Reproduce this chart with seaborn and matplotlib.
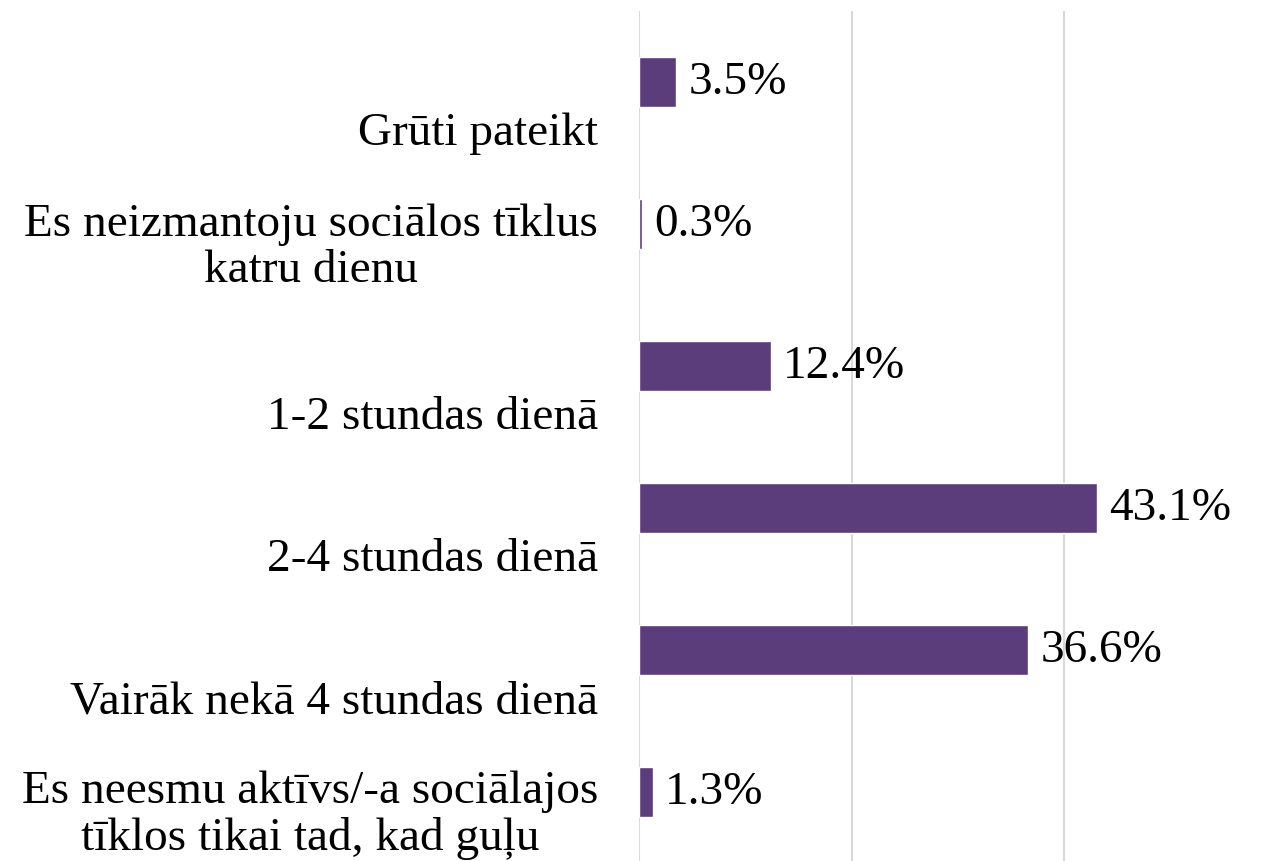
import matplotlib
matplotlib.use("Agg")
import matplotlib.pyplot as plt
import matplotlib.transforms as mtransforms
import seaborn as sns
import pandas as pd

categories = [
    "Grūti pateikt",
    "Es neizmantoju sociālos tīklus\nkatru dienu",
    "1-2 stundas dienā",
    "2-4 stundas dienā",
    "Vairāk nekā 4 stundas dienā",
    "Es neesmu aktīvs/-a sociālajos\ntīklos tikai tad, kad guļu",
]
values = [3.5, 0.3, 12.4, 43.1, 36.6, 1.3]

df = pd.DataFrame({"category": categories, "value": values})

sns.set_style("white")
plt.rcParams["font.family"] = ["Liberation Serif", "DejaVu Serif"]

fig = plt.figure(figsize=(12.66, 8.62), dpi=100)
ax = fig.add_axes([639 / 1266, 0.0, 1 - 639 / 1266, 1 - 12 / 862])

sns.barplot(data=df, x="value", y="category", orient="h", color="#5A3D7A",
            width=0.35, saturation=1, ax=ax)

for c in ax.containers:
    ax.bar_label(c, labels=[f"{v:.1f}%" for v in values], padding=9,
                 fontsize=34, color="black")

ax.set_xlim(0, 59)
ax.set_ylim(5.486, -0.5)
ax.set_xticks([0, 20, 40])
ax.xaxis.grid(True, color="#D9D9D9", linewidth=1.5)
ax.set_axisbelow(True)
ax.tick_params(axis="both", length=0, labelbottom=False, labelleft=False)
for s in ax.spines.values():
    s.set_visible(False)
ax.set_xlabel("")
ax.set_ylabel("")

# category labels sit below their bars, like in the original chart
trans = mtransforms.blended_transform_factory(ax.transAxes, ax.transData)
for i, lab in enumerate(categories):
    off = 0.16 if "\n" in lab else 0.36
    ax.text(-41 / 627, i + off, lab, transform=trans, ha="right", va="center",
            multialignment="center", fontsize=34, linespacing=1.12,
            color="black")

fig.savefig("out.png", dpi=100)
